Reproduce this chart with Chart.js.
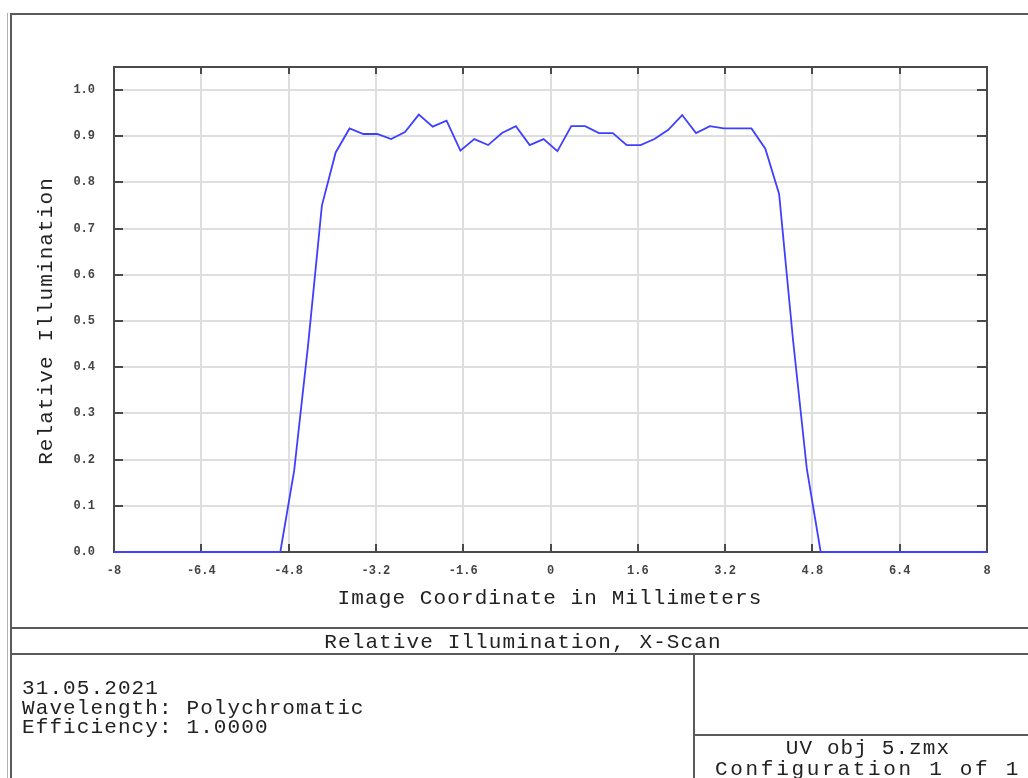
<!DOCTYPE html>
<html>
<head>
<meta charset="utf-8">
<script src="https://cdn.jsdelivr.net/npm/chart.js@4"></script>
<style>
  html, body { margin: 0; padding: 0; background: #fff; }
  body { width: 1028px; height: 778px; position: relative; overflow: hidden; }
  #plot { position: absolute; left: 0; top: 0; }
  .ln { position: absolute; background: #5a5a5a; }
  .txt {
    position: absolute; font-family: "Liberation Mono", monospace; font-size: 21px;
    letter-spacing: 1.1px; color: #222; height: 24px; line-height: 24px; white-space: pre;
  }
  .c { text-align: center; }
</style>
</head>
<body>
<canvas id="plot" width="1028" height="778"></canvas>

<!-- page frame -->
<div class="ln" style="left:7px; top:13px; width:1px; height:765px; background:#b0b0b0"></div>
<div class="ln" style="left:10px; top:13px; width:2px; height:765px;"></div>
<div class="ln" style="left:10px; top:13px; width:1018px; height:2px;"></div>
<div class="ln" style="left:10px; top:627px; width:1018px; height:2px;"></div>
<div class="ln" style="left:10px; top:653px; width:1018px; height:2px;"></div>
<div class="ln" style="left:693px; top:653px; width:2px; height:125px;"></div>
<div class="ln" style="left:693px; top:734px; width:335px; height:2px;"></div>

<!-- axis titles -->
<div class="txt c" style="left:150px; top:587px; width:800px;">Image Coordinate in Millimeters</div>
<div class="txt c" style="left:-153px; top:309px; width:400px; transform:rotate(-90deg);">Relative Illumination</div>

<!-- footer -->
<div class="txt c" style="left:123px; top:631px; width:800px;">Relative Illumination, X-Scan</div>
<div class="txt" style="left:22px; top:677px;">31.05.2021</div>
<div class="txt" style="left:22px; top:697px;">Wavelength: Polychromatic</div>
<div class="txt" style="left:22px; top:716px;">Efficiency: 1.0000</div>
<div class="txt c" style="left:568px; top:737px; width:600px;">UV obj 5.zmx</div>
<div class="txt c" style="left:568px; top:758px; width:600px; letter-spacing:2.7px;">Configuration 1 of 1</div>

<script>
// Image coordinate (mm) of each scan sample
const imageCoord = [
  -8.000, -7.746, -7.492, -7.238, -6.984, -6.730, -6.476, -6.222,
  -5.968, -5.714, -5.460, -5.206, -4.952, -4.698, -4.444, -4.190,
  -3.937, -3.683, -3.429, -3.175, -2.921, -2.667, -2.413, -2.159,
  -1.905, -1.651, -1.397, -1.143, -0.889, -0.635, -0.381, -0.127,
   0.127,  0.381,  0.635,  0.889,  1.143,  1.397,  1.651,  1.905,
   2.159,  2.413,  2.667,  2.921,  3.175,  3.429,  3.683,  3.937,
   4.190,  4.444,  4.698,  4.952,  5.206,  5.460,  5.714,  5.968,
   6.222,  6.476,  6.730,  6.984,  7.238,  7.492,  7.746,  8.000
];

// Relative illumination at each sample
const relIllumination = [
  0, 0, 0, 0, 0, 0, 0, 0,
  0, 0, 0, 0, 0, 0.176, 0.447, 0.750,
  0.865, 0.917, 0.905, 0.905, 0.894, 0.909, 0.947, 0.921,
  0.934, 0.869, 0.894, 0.881, 0.907, 0.922, 0.881, 0.894,
  0.868, 0.922, 0.922, 0.907, 0.907, 0.881, 0.881, 0.894,
  0.914, 0.946, 0.907, 0.922, 0.917, 0.917, 0.917, 0.873,
  0.775, 0.460, 0.180, 0, 0, 0, 0, 0,
  0, 0, 0, 0, 0, 0, 0, 0
];

// Axis ticks
const xTickValues = [-8, -6.4, -4.8, -3.2, -1.6, 0, 1.6, 3.2, 4.8, 6.4, 8];
const xTickLabels = ['-8', '-6.4', '-4.8', '-3.2', '-1.6', '0', '1.6', '3.2', '4.8', '6.4', '8'];
const yTickValues = [0, 0.1, 0.2, 0.3, 0.4, 0.5, 0.6, 0.7, 0.8, 0.9, 1.0];
const yTickLabels = ['0.0', '0.1', '0.2', '0.3', '0.4', '0.5', '0.6', '0.7', '0.8', '0.9', '1.0'];

const tickFont = { family: 'Liberation Mono', size: 12, weight: 'bold' };

// Frame around the plot area with inward tick marks on all four sides
const plotFrame = {
  id: 'plotFrame',
  beforeDatasetsDraw(chart) {
    const { ctx, chartArea: a, scales } = chart;
    ctx.save();
    ctx.strokeStyle = '#4a4a4a';
    ctx.lineWidth = 2;
    ctx.strokeRect(a.left, a.top, a.right - a.left, a.bottom - a.top);
    ctx.beginPath();
    xTickValues.forEach(v => {
      const px = Math.round(scales.x.getPixelForValue(v));
      ctx.moveTo(px, a.bottom); ctx.lineTo(px, a.bottom - 8);
      ctx.moveTo(px, a.top); ctx.lineTo(px, a.top + 7);
    });
    yTickValues.forEach(v => {
      const py = Math.round(scales.y.getPixelForValue(v));
      ctx.moveTo(a.left, py); ctx.lineTo(a.left + 9, py);
      ctx.moveTo(a.right, py); ctx.lineTo(a.right - 10, py);
    });
    ctx.stroke();
    ctx.restore();
  }
};

new Chart(document.getElementById('plot'), {
  type: 'scatter',
  data: {
    datasets: [{
      data: imageCoord.map((x, i) => ({ x: x, y: relIllumination[i] })),
      showLine: true,
      borderColor: '#3f3fff',
      borderWidth: 1.8,
      pointRadius: 0,
      tension: 0,
      clip: false
    }]
  },
  options: {
    responsive: false,
    animation: false,
    devicePixelRatio: 1,
    layout: { padding: { left: 0, top: 67, right: 41, bottom: 186 } },
    plugins: { legend: { display: false }, tooltip: { enabled: false } },
    scales: {
      x: {
        type: 'linear', min: -8, max: 8,
        afterBuildTicks: s => { s.ticks = xTickValues.map(v => ({ value: v })); },
        afterFit: s => { s.height = 40; },
        grid: { color: '#dedede', lineWidth: 2, drawTicks: false },
        border: { display: false },
        ticks: {
          font: tickFont, color: '#444', padding: 12, maxRotation: 0, autoSkip: false,
          callback: (v, i) => xTickLabels[i]
        }
      },
      y: {
        type: 'linear', min: 0, max: 1.05,
        afterBuildTicks: s => { s.ticks = yTickValues.map(v => ({ value: v })); },
        afterFit: s => { s.width = 114; },
        grid: { color: '#dedede', lineWidth: 2, drawTicks: false },
        border: { display: false },
        ticks: {
          font: tickFont, color: '#444', padding: 19, autoSkip: false,
          callback: (v, i) => yTickLabels[i]
        }
      }
    }
  },
  plugins: [plotFrame]
});
</script>
</body>
</html>
